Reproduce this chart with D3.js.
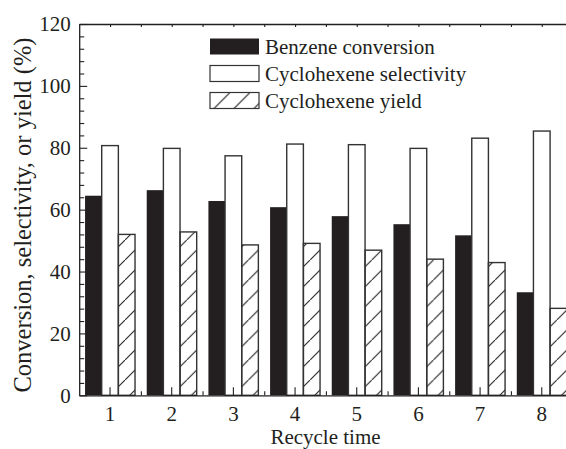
<!DOCTYPE html>
<html>
<head>
<meta charset="utf-8">
<script src="https://cdn.jsdelivr.net/npm/d3@7"></script>
<style>
  body { margin: 0; background: #fff; }
  text { font-family: "Liberation Serif", "Times New Roman", serif; fill: #231f20; }
</style>
</head>
<body>
<script>
const cycles = ["1", "2", "3", "4", "5", "6", "7", "8"];
const conversion = [64.5, 66.3, 62.8, 60.8, 57.9, 55.3, 51.7, 33.3];
const selectivity = [80.7, 79.8, 77.4, 81.2, 81.0, 79.8, 83.1, 85.4];
const yieldVals = [52.0, 52.8, 48.6, 49.1, 46.9, 44.0, 42.9, 28.1];
const seriesNames = ["Benzene conversion", "Cyclohexene selectivity", "Cyclohexene yield"];
const yMajor = [0, 20, 40, 60, 80, 100, 120];

const width = 566, height = 449;
const plotL = 79.2, plotR = 572.6, plotT = 24, plotB = 395.3;
const ink = "#231f20";

const svg = d3.select("body").append("svg")
    .attr("width", width)
    .attr("height", height);

// hatch pattern
const defs = svg.append("defs");
defs.append("pattern")
    .attr("id", "hatch")
    .attr("patternUnits", "userSpaceOnUse")
    .attr("width", 20).attr("height", 20)
    .append("path")
    .attr("d", "M0,20 L20,0")
    .attr("stroke", ink)
    .attr("stroke-width", 1.1);

const x = d3.scaleBand()
    .domain(cycles)
    .range([plotL, plotR])
    .paddingInner(0.19)
    .paddingOuter(0.095);

const xs = d3.scaleBand()
    .domain(seriesNames)
    .range([0, x.bandwidth()]);

const xl = d3.scaleLinear().domain([0.5, 8.5]).range([plotL, plotR]);

const y = d3.scaleLinear().domain([0, 120]).range([plotB, plotT]);

const rows = cycles.map((c, i) => ({
    cycle: c,
    values: [conversion[i], selectivity[i], yieldVals[i]]
}));

const fills = [ink, "#fff", "url(#hatch)"];

const groups = svg.append("g").selectAll("g")
    .data(rows)
    .join("g")
    .attr("transform", d => `translate(${x(d.cycle)},0)`);

groups.selectAll("rect")
    .data(d => d.values.map((v, k) => ({ key: seriesNames[k], k, v })))
    .join("rect")
    .attr("x", d => xs(d.key))
    .attr("width", xs.bandwidth())
    .attr("y", d => y(d.v))
    .attr("height", d => y(0) - y(d.v))
    .attr("fill", d => fills[d.k])
    .attr("stroke", d => d.k === 0 ? ink : "#333")
    .attr("stroke-width", d => d.k === 0 ? 0 : 1.4);

// axes
function styleAxis(g) {
    g.selectAll("path.domain").attr("stroke", ink).attr("stroke-width", 1.3);
    g.selectAll(".tick line").attr("stroke", ink).attr("stroke-width", 1.1);
    g.selectAll(".tick text")
        .style("font-family", '"Liberation Serif", serif')
        .attr("font-size", 21)
        .attr("fill", ink);
}

// y major
svg.append("g")
    .attr("transform", `translate(${plotL},0)`)
    .call(d3.axisLeft(y).tickValues(yMajor).tickSizeInner(-8).tickSizeOuter(0).tickPadding(8.5))
    .call(styleAxis);

// y minor
const yMinor = d3.range(0, 121, 4).filter(v => v % 20 !== 0);
svg.append("g")
    .attr("transform", `translate(${plotL},0)`)
    .call(d3.axisLeft(y).tickValues(yMinor).tickSizeInner(-5).tickSizeOuter(0).tickFormat(""))
    .call(styleAxis)
    .select("path.domain").remove();

// x major
svg.append("g")
    .attr("transform", `translate(0,${plotB})`)
    .call(d3.axisBottom(x).tickSizeInner(-8).tickSizeOuter(0).tickPadding(10.5))
    .call(styleAxis);

// x minor
svg.append("g")
    .attr("transform", `translate(0,${plotB})`)
    .call(d3.axisBottom(xl).tickValues(d3.range(1.5, 8, 1)).tickSizeInner(-4).tickSizeOuter(0).tickFormat(""))
    .call(styleAxis)
    .select("path.domain").remove();

// top frame
svg.append("g")
    .attr("transform", `translate(0,${plotT})`)
    .call(d3.axisTop(xl).tickValues(d3.range(1, 8.6, 0.5)).tickSizeInner(-3).tickSizeOuter(0).tickFormat(""))
    .call(styleAxis);

// titles
svg.append("text")
    .attr("x", 325.5)
    .attr("y", 444)
    .attr("text-anchor", "middle")
    .attr("font-size", 21)
    .text("Recycle time");

svg.append("text")
    .attr("transform", "translate(31,215) rotate(-90)")
    .attr("text-anchor", "middle")
    .attr("font-size", 24.5)
    .text("Conversion, selectivity, or yield (%)");

// legend
const legend = svg.append("g")
    .selectAll("g")
    .data(seriesNames)
    .join("g")
    .attr("transform", (d, i) => `translate(210,${38.5 + i * 27})`);

legend.append("rect")
    .attr("width", 49)
    .attr("height", 16)
    .attr("fill", (d, i) => fills[i])
    .attr("stroke", (d, i) => i === 0 ? ink : "#333")
    .attr("stroke-width", (d, i) => i === 0 ? 0 : 1.2);

legend.append("text")
    .attr("x", 55)
    .attr("y", 15.8)
    .attr("font-size", 21)
    .text(d => d);
</script>
</body>
</html>
